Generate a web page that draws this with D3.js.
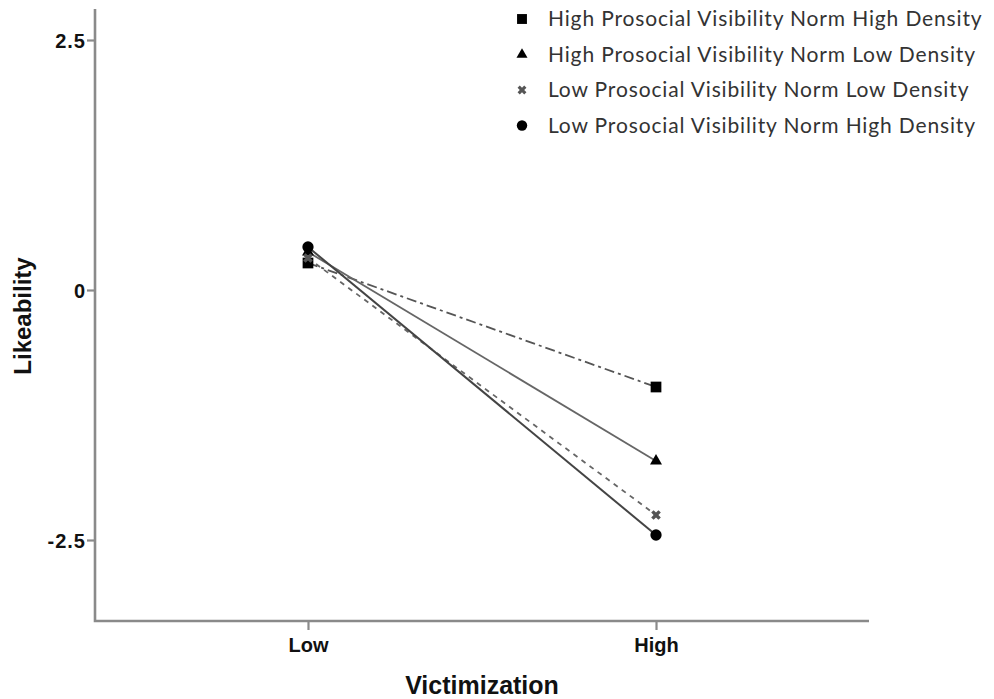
<!DOCTYPE html>
<html>
<head>
<meta charset="utf-8">
<script src="https://cdn.jsdelivr.net/npm/d3@7"></script>
<style>
  html, body { margin: 0; padding: 0; background: #fff; }
  svg { display: block; }
</style>
</head>
<body>
<svg id="chart" width="994" height="699"></svg>
<script>
// Victimization levels on the x axis
const categories = ["Low", "High"];
// Likeability values per group (Low, High victimization)
const seriesNames = [
  "High Prosocial Visibility Norm High Density",
  "High Prosocial Visibility Norm Low Density",
  "Low Prosocial Visibility Norm Low Density",
  "Low Prosocial Visibility Norm High Density"
];
const highVisHighDensity = [0.27, -0.97];
const highVisLowDensity = [0.38, -1.71];
const lowVisLowDensity = [0.32, -2.25];
const lowVisHighDensity = [0.43, -2.45];
const yTicks = [2.5, 0, -2.5];
const yTickLabels = ["2.5", "0", "-2.5"];

const seriesValues = [highVisHighDensity, highVisLowDensity, lowVisLowDensity, lowVisHighDensity];
const seriesStyle = [
  { symbol: d3.symbolSquare, size: 115, dash: "10,4,3,4", stroke: "#555", width: 1.8 },
  { symbol: d3.symbolTriangle, size: 62, dash: null, stroke: "#666", width: 1.8 },
  { symbol: d3.symbolCross, size: 58, dash: "5,5", stroke: "#666", width: 1.8 },
  { symbol: d3.symbolCircle, size: 100, dash: null, stroke: "#444", width: 2 }
];

const svg = d3.select("#chart");
const plotLeft = 95, plotRight = 869, plotTop = 9, plotBottom = 621;

const x = d3.scalePoint().domain(categories).range([plotLeft, plotRight]).padding(0.612);
const y = d3.scaleLinear().domain([-3.31, 2.81]).range([plotBottom, plotTop]);

// Axes
const axisColor = "#8a8a8a";
const yAxis = svg.append("g").attr("transform", `translate(${plotLeft},0)`)
  .call(d3.axisLeft(y).tickValues(yTicks).tickSize(8)
    .tickFormat((d, i) => yTickLabels[i]));
const xAxis = svg.append("g").attr("transform", `translate(0,${plotBottom})`)
  .call(d3.axisBottom(x).tickSize(9).tickPadding(8));

[yAxis, xAxis].forEach(g => {
  g.select(".domain").remove();
  g.selectAll(".tick line").attr("stroke", axisColor).attr("stroke-width", 2.2);
  g.selectAll(".tick text")
    .attr("fill", "#111")
    .style("font-family", "'Liberation Sans', Arial, sans-serif")
    .style("font-weight", "bold")
    .style("font-size", "20px");
});
yAxis.selectAll(".tick text").attr("x", -9).attr("dy", "0.36em").style("letter-spacing", "1px");

svg.append("path")
  .attr("d", `M${plotLeft},${plotTop}V${plotBottom}H${plotRight}`)
  .attr("fill", "none").attr("stroke", axisColor).attr("stroke-width", 2.6);

// Axis titles
svg.append("text")
  .attr("transform", `translate(31,${y(-0.26)}) rotate(-90)`)
  .attr("text-anchor", "middle")
  .style("font-family", "'Liberation Sans', Arial, sans-serif")
  .style("font-weight", "bold").style("font-size", "24px").attr("fill", "#111")
  .text("Likeability");
svg.append("text")
  .attr("x", (plotLeft + plotRight) / 2).attr("y", 694)
  .attr("text-anchor", "middle")
  .style("font-family", "'Liberation Sans', Arial, sans-serif")
  .style("font-weight", "bold").style("font-size", "25px").attr("fill", "#111")
  .text("Victimization");

// Lines
const line = d3.line().x((d, i) => x(categories[i])).y(d => y(d));
seriesValues.forEach((vals, si) => {
  const st = seriesStyle[si];
  svg.append("path")
    .datum(vals)
    .attr("d", line)
    .attr("fill", "none")
    .attr("stroke", st.stroke)
    .attr("stroke-width", st.width)
    .attr("stroke-dasharray", st.dash);
});

// Markers: the cross is drawn rotated so it reads as an "x"
function drawMarker(g, st, cx, cy, scale) {
  const k = scale || 1;
  const isCross = st.symbol === d3.symbolCross;
  g.append("path")
    .attr("d", d3.symbol().type(st.symbol).size(st.size * k)())
    .attr("transform", `translate(${cx},${cy})` + (isCross ? " rotate(45)" : ""))
    .attr("fill", isCross ? "#555" : "#000");
}
seriesValues.forEach((vals, si) => {
  vals.forEach((v, i) => drawMarker(svg, seriesStyle[si], x(categories[i]), y(v)));
});

// Legend
const legend = svg.append("g");
seriesNames.forEach((name, i) => {
  const ly = 19 + i * 35.5;
  drawMarker(legend, seriesStyle[i], 522, ly, 0.85);
  legend.append("text")
    .attr("x", 548).attr("y", ly).attr("dy", "0.35em")
    .style("font-family", "Lato, 'Open Sans', sans-serif")
    .style("font-size", "21px")
    .style("letter-spacing", "0.85px")
    .attr("fill", "#333")
    .text(name);
});
</script>
</body>
</html>
